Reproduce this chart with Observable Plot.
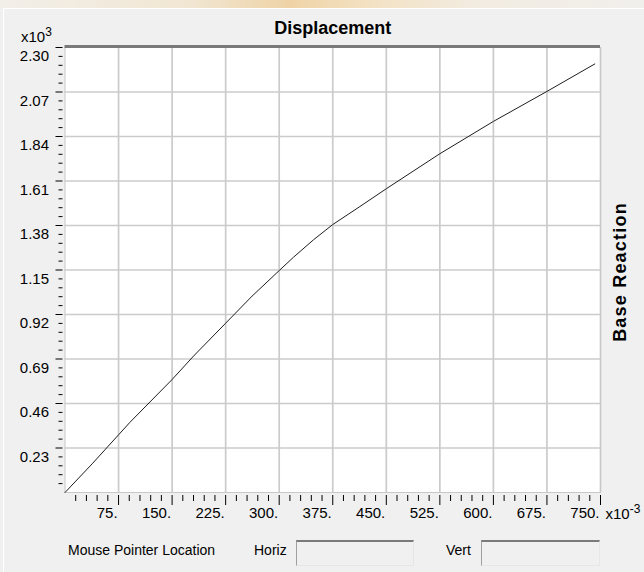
<!DOCTYPE html>
<html>
<head>
<meta charset="utf-8">
<script src="https://cdn.jsdelivr.net/npm/d3@7"></script>
<script src="https://cdn.jsdelivr.net/npm/@observablehq/plot@0.6"></script>
<style>
  html, body { margin: 0; padding: 0; overflow: hidden; background: #f0f0f0; }
  #wrap { position: relative; width: 644px; height: 572px; background: #f0f0f0;
          font-family: "Liberation Sans", Arial, sans-serif; color: #000; }
  #topband { position: absolute; left: 0; top: 0; width: 644px; height: 8px;
             background: linear-gradient(90deg, #f2efe9 0%, #f1e6d2 30%, #efd3a6 45%, #f3e2c4 58%, #f2ece2 75%, #f1efec 100%); }
  #panel { position: absolute; left: 3px; top: 8px; width: 641px; height: 564px;
           border-top: 1px solid #ffffff; border-left: 1px solid #ffffff; box-sizing: border-box; }
  #chart { position: absolute; left: 0; top: 0; }
  .lbl { position: absolute; top: 542px; font-size: 14px; line-height: 16px; white-space: nowrap; }
  .box { position: absolute; top: 540px; height: 26px; box-sizing: border-box; background: #f0f0f0;
         border-top: 2px solid #7a7a7a; border-left: 1px solid #a0a0a0;
         border-bottom: 1px solid #e6e6e6; border-right: 1px solid #e6e6e6; }
</style>
</head>
<body>
<div id="wrap">
  <div id="topband"></div>
  <div id="panel"></div>
  <div id="chart"></div>
  <div class="lbl" style="left:68px">Mouse Pointer Location</div>
  <div class="lbl" style="left:254px">Horiz</div>
  <div class="box" style="left:296px; width:118px"></div>
  <div class="lbl" style="left:446px">Vert</div>
  <div class="box" style="left:481px; width:119px"></div>
</div>
<script>
// Data (x in units of 1e-3, y in units of 1e3)
const xValues = [0, 38, 75, 91, 150, 180, 225, 262, 300, 320, 348, 375, 413, 450, 525, 600, 675, 742];
const yValues = [0, 0.148, 0.298, 0.363, 0.584, 0.705, 0.875, 1.015, 1.147, 1.216, 1.306, 1.385, 1.478, 1.570, 1.751, 1.918, 2.073, 2.215];

const xMajorTicks = [75, 150, 225, 300, 375, 450, 525, 600, 675, 750];
const xTickLabels = ["75.", "150.", "225.", "300.", "375.", "450.", "525.", "600.", "675.", "750."];
const yMajorTicks = [0.23, 0.46, 0.69, 0.92, 1.15, 1.38, 1.61, 1.84, 2.07, 2.30];
const yTickLabels = ["0.23", "0.46", "0.69", "0.92", "1.15", "1.38", "1.61", "1.84", "2.07", "2.30"];

const titleText = "Displacement";
const yTitleText = "Base Reaction";
const yExpBase = "x10", yExpPower = "3";
const xExpBase = "x10", xExpPower = "-3";

const xMinorTicks = d3.range(1, 50).filter(i => i % 5 !== 0).map(i => i * 15);
const yMinorTicks = d3.range(1, 50).filter(i => i % 5 !== 0).map(i => i * 0.046);

const data = xValues.map((x, i) => ({x, y: yValues[i]}));

const chart = Plot.plot({
  width: 644,
  height: 530,
  marginLeft: 64.5,
  marginRight: 44,
  marginTop: 47,
  marginBottom: 38,
  style: {background: "transparent", fontFamily: "'Liberation Sans', Arial, sans-serif", fontSize: "14px", color: "#000", overflow: "visible"},
  x: {domain: [0, 750]},
  y: {domain: [0, 2.30]},
  marks: [
    Plot.frame({fill: "white", stroke: null}),
    Plot.gridX(xMajorTicks, {stroke: "#cbcbcb", strokeOpacity: 1, strokeWidth: 1.7}),
    Plot.gridY(yMajorTicks.slice(0, -1), {stroke: "#cbcbcb", strokeOpacity: 1, strokeWidth: 1.7}),
    Plot.frame({stroke: "#c8c8c8", strokeWidth: 1}),
    Plot.ruleY([2.30], {stroke: "#7a7a7a", strokeWidth: 3, dy: -1}),
    Plot.line(data, {x: "x", y: "y", stroke: "#1e1e1e", strokeWidth: 1}),
    // x ticks
    Plot.axisX(xMinorTicks, {tickSize: 6, tickFormat: () => "", dy: 3, tickPadding: 0, label: null}),
    Plot.axisX(xMajorTicks, {tickSize: 10, tickFormat: () => "", dy: 3, tickPadding: 0, label: null}),
    Plot.axisX(xMajorTicks, {tickSize: 0, tickPadding: 15, textAnchor: "end", dx: -1, fontSize: 15,
      tickFormat: d => xTickLabels[xMajorTicks.indexOf(d)], label: null}),
    // y ticks
    Plot.axisY(yMinorTicks, {tickSize: 4, tickFormat: () => "", dx: -2, tickPadding: 0, label: null}),
    Plot.axisY(yMajorTicks, {tickSize: 7, tickFormat: () => "", dx: -2, tickPadding: 0, label: null}),
    Plot.axisY(yMajorTicks, {tickSize: 0, tickPadding: 16, dy: 9, fontSize: 15,
      tickFormat: d => yTickLabels[yMajorTicks.indexOf(d)], label: null}),
    // annotations
    Plot.text([titleText], {text: d => d, frameAnchor: "top", lineAnchor: "bottom", dy: -14, fontSize: 18, fontWeight: "bold"}),
    Plot.text([yTitleText], {text: d => d, frameAnchor: "right", textAnchor: "middle", lineAnchor: "bottom", rotate: -90, dx: 25, dy: 2, fontSize: 18, fontWeight: "bold", className: "ylab"}),
    Plot.text([yExpBase], {text: d => d, frameAnchor: "top-left", textAnchor: "start", lineAnchor: "bottom", dx: -44, dy: -6, fontSize: 15, className: "exp-y"}),
    Plot.text([xExpBase], {text: d => d, frameAnchor: "bottom-right", textAnchor: "start", lineAnchor: "bottom", dx: 5, dy: 26, fontSize: 15, className: "exp-x"})
  ]
});

// superscript exponents as tspans
function addPower(cls, power) {
  d3.select(chart).selectAll(`.${cls} text`).each(function() {
    d3.select(this).append("tspan").attr("dy", "-6").attr("font-size", "12").text(power);
  });
}
addPower("exp-y", yExpPower);
addPower("exp-x", xExpPower);
d3.select(chart).selectAll(".ylab text").attr("letter-spacing", "1.2");

document.getElementById("chart").appendChild(chart);
</script>
</body>
</html>
